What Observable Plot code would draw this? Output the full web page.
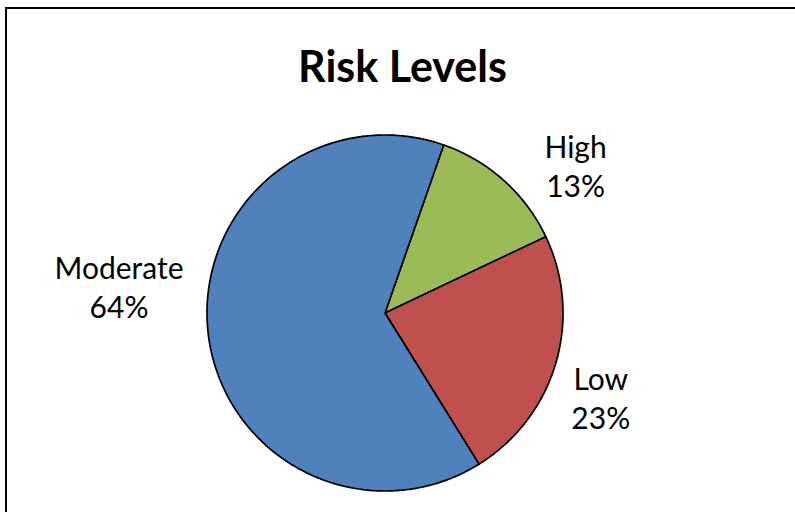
<!DOCTYPE html>
<html>
<head>
<meta charset="utf-8">
<script src="https://cdn.jsdelivr.net/npm/d3@7"></script>
<script src="https://cdn.jsdelivr.net/npm/@observablehq/plot@0.6"></script>
<style>
  html, body { margin: 0; padding: 0; background: #fff; }
  #wrap { position: relative; width: 795px; height: 512px; overflow: hidden; background: #fff; }
  #border { position: absolute; left: 5px; top: 7px; width: 1200px; height: 1200px;
            border-left: 2px solid #000; border-top: 2px solid #000; }
  #title { position: absolute; left: 5px; top: 40px; width: 795px; text-align: center;
           font-family: Lato, "Open Sans", sans-serif; font-weight: 700; font-size: 43px;
           line-height: 52px; color: #000; }
  #plot { position: absolute; left: 0; top: 100px; }
</style>
</head>
<body>
<div id="wrap">
  <div id="border"></div>
  <div id="title">Risk Levels</div>
  <div id="plot"></div>
</div>
<script>
// ---- data ----
const categories = ["High", "Low", "Moderate"];
const values = [12.6, 23.2, 64.2];
const colors = ["#9BBB59", "#C0504D", "#4F81BD"];

// ---- layout constants ----
const W = 795, H = 412;
const R = 178;                    // pie radius in px
const CX = 384.5, CY = 212.5;     // pie centre in svg px
const firstSliceAngle = 19.25;    // degrees, clockwise from 12 o'clock
const labelFont = "Lato, 'Open Sans', sans-serif";
const labelSize = 30;
const lineH = 39;                 // px between label lines
const gap = 16;                   // px between pie edge and label box
const labelSlide = {High: 43, Low: 20, Moderate: 56}; // clockwise slide of each label (px)

// ---- slices ----
const total = d3.sum(values);
const a0 = firstSliceAngle * Math.PI / 180;
const arcs = d3.pie().sort(null).startAngle(a0).endAngle(a0 + 2 * Math.PI)(values);

const slicePts = [];
arcs.forEach((a, i) => {
  slicePts.push({key: categories[i], x: 0, y: 0});
  const n = Math.max(2, Math.ceil((a.endAngle - a.startAngle) / (Math.PI / 360)));
  for (let k = 0; k <= n; k++) {
    const t = a.startAngle + (a.endAngle - a.startAngle) * k / n;
    slicePts.push({key: categories[i], x: Math.sin(t), y: Math.cos(t)});
  }
});

// ---- labels ----
const ctx = document.createElement("canvas").getContext("2d");
ctx.font = `${labelSize}px ${labelFont}`;
const labels = arcs.map((a, i) => {
  const lines = [categories[i], Math.round(values[i] / total * 100) + "%"];
  const hw = d3.max(lines, s => ctx.measureText(s).width) / 2;
  const hh = (lineH * (lines.length - 1) + 0.72 * labelSize) / 2;
  const th = (a.startAngle + a.endAngle) / 2;
  const s = Math.sin(th), c = Math.cos(th);
  const d = R + gap + hw * Math.abs(s) + hh * Math.abs(c);
  const tg = labelSlide[categories[i]] || 0;
  const px = s * d + c * tg;
  const py = c * d - s * tg;
  return {text: lines.join("\n"), x: px / R, y: py / R};
});

const chart = Plot.plot({
  width: W,
  height: H,
  marginLeft: CX - R,
  marginRight: W - CX - R,
  marginTop: CY - R,
  marginBottom: H - CY - R,
  x: {domain: [-1, 1], axis: null},
  y: {domain: [-1, 1], axis: null},
  color: {domain: categories, range: colors},
  style: {background: "transparent", overflow: "visible"},
  marks: [
    Plot.line(slicePts, {x: "x", y: "y", z: "key", fill: "key", stroke: "#000",
                         strokeWidth: 1.7, strokeLinejoin: "round", curve: "linear-closed"}),
    Plot.text(labels, {x: "x", y: "y", text: "text", fontSize: labelSize,
                       fontFamily: labelFont, fill: "#000", lineHeight: lineH / labelSize,
                       textAnchor: "middle", lineAnchor: "middle"})
  ]
});
document.getElementById("plot").appendChild(chart);
</script>
</body>
</html>
